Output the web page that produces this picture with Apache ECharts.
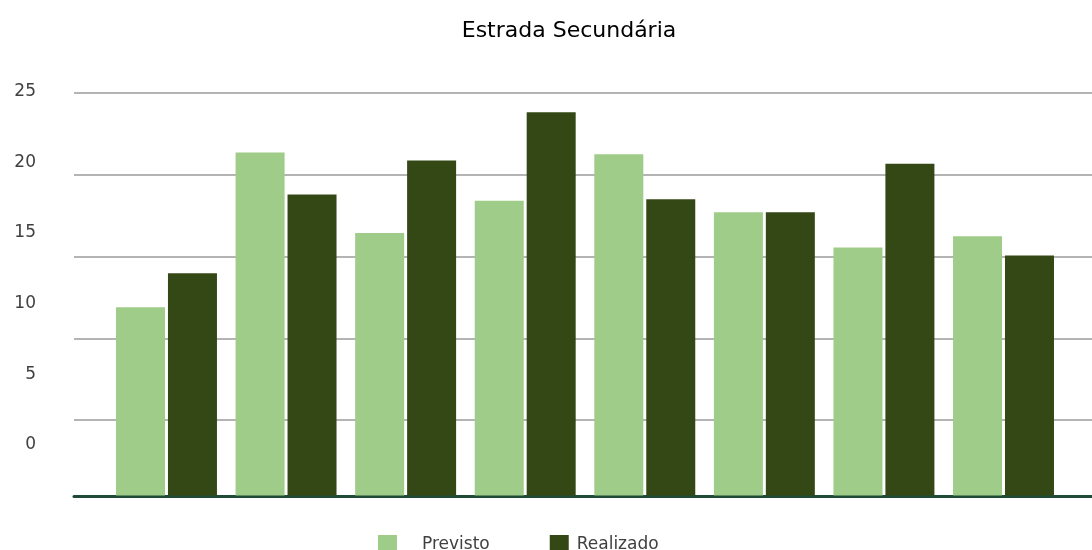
<!DOCTYPE html>
<html>
<head>
<meta charset="utf-8">
<script src="https://cdn.jsdelivr.net/npm/echarts@6/dist/echarts.min.js"></script>
<style>
  html, body { margin: 0; padding: 0; background: #fff; }
  #chart { width: 1092px; height: 550px; }
</style>
</head>
<body>
<div id="chart"></div>
<script>
// data
const categories = ['1', '2', '3', '4', '5', '6', '7', '8'];
const previsto = [11.7, 21.3, 16.3, 18.3, 21.2, 17.6, 15.4, 16.1];
const realizado = [13.8, 18.7, 20.8, 23.8, 18.4, 17.6, 20.6, 14.9];
const yTicks = [0, 5, 10, 15, 20, 25];

const chart = echarts.init(document.getElementById('chart'));

const option = {
  animation: false,
  title: {
    text: 'Estrada Secundária',
    left: 564,
    textAlign: 'center',
    top: 15,
    textStyle: { color: '#000', fontSize: 22, fontWeight: 'normal', fontFamily: 'DejaVu Sans' }
  },
  legend: {
    // the two items are spaced differently in the original
    data: [
      { name: 'Previsto', textStyle: { padding: [0, 0, 10, 20] } },
      { name: 'Realizado', textStyle: { padding: [0, 0, 10, 3] } }
    ],
    left: 373,
    top: 530,
    icon: 'rect',
    itemWidth: 19,
    itemHeight: 19,
    itemGap: 60,
    textStyle: { color: '#404040', fontSize: 17, fontFamily: 'DejaVu Sans' }
  },
  grid: [
    // background: gridlines + axis line, full width
    { left: 74, right: 0, top: 93, bottom: 48 },
    // bars
    { left: 106.7, right: 28.7, top: 93, bottom: 54.5 },
    // tick labels (they sit off the gridlines in the original)
    { left: 44, width: 10, top: 91.5, bottom: 105 }
  ],
  xAxis: [
    {
      gridIndex: 0, type: 'category', data: [],
      offset: -6,
      axisLine: { show: true, lineStyle: { color: '#1d4b36', width: 3 } },
      axisTick: { show: false }, axisLabel: { show: false }
    },
    {
      gridIndex: 1, type: 'category', data: categories,
      axisLine: { show: false }, axisTick: { show: false }, axisLabel: { show: false }
    },
    {
      gridIndex: 2, type: 'category', data: [], show: false
    }
  ],
  yAxis: [
    {
      gridIndex: 0, type: 'value', min: 0, max: 25, interval: 5,
      axisLine: { show: false }, axisTick: { show: false }, axisLabel: { show: false },
      splitLine: { show: true, showMinLine: false, lineStyle: { color: '#b4b4b4', width: 2 } }
    },
    {
      gridIndex: 1, type: 'value', min: 0, max: 25, interval: 5,
      axisLine: { show: false }, axisTick: { show: false }, axisLabel: { show: false },
      splitLine: { show: false }
    },
    {
      gridIndex: 2, type: 'value', min: 0, max: 25, interval: 5,
      axisLine: { show: false }, axisTick: { show: false },
      splitLine: { show: false },
      axisLabel: {
        show: true, margin: 8, color: '#404040', fontSize: 17, fontFamily: 'DejaVu Sans',
        customValues: yTicks
      }
    }
  ],
  series: [
    {
      name: 'Previsto',
      type: 'bar',
      xAxisIndex: 1,
      yAxisIndex: 1,
      data: previsto,
      barWidth: 49,
      barGap: '6%',
      itemStyle: { color: '#9fcc88' }
    },
    {
      name: 'Realizado',
      type: 'bar',
      xAxisIndex: 1,
      yAxisIndex: 1,
      data: realizado,
      barWidth: 49,
      barGap: '6%',
      itemStyle: { color: '#344816' }
    }
  ]
};

chart.setOption(option);
</script>
</body>
</html>
